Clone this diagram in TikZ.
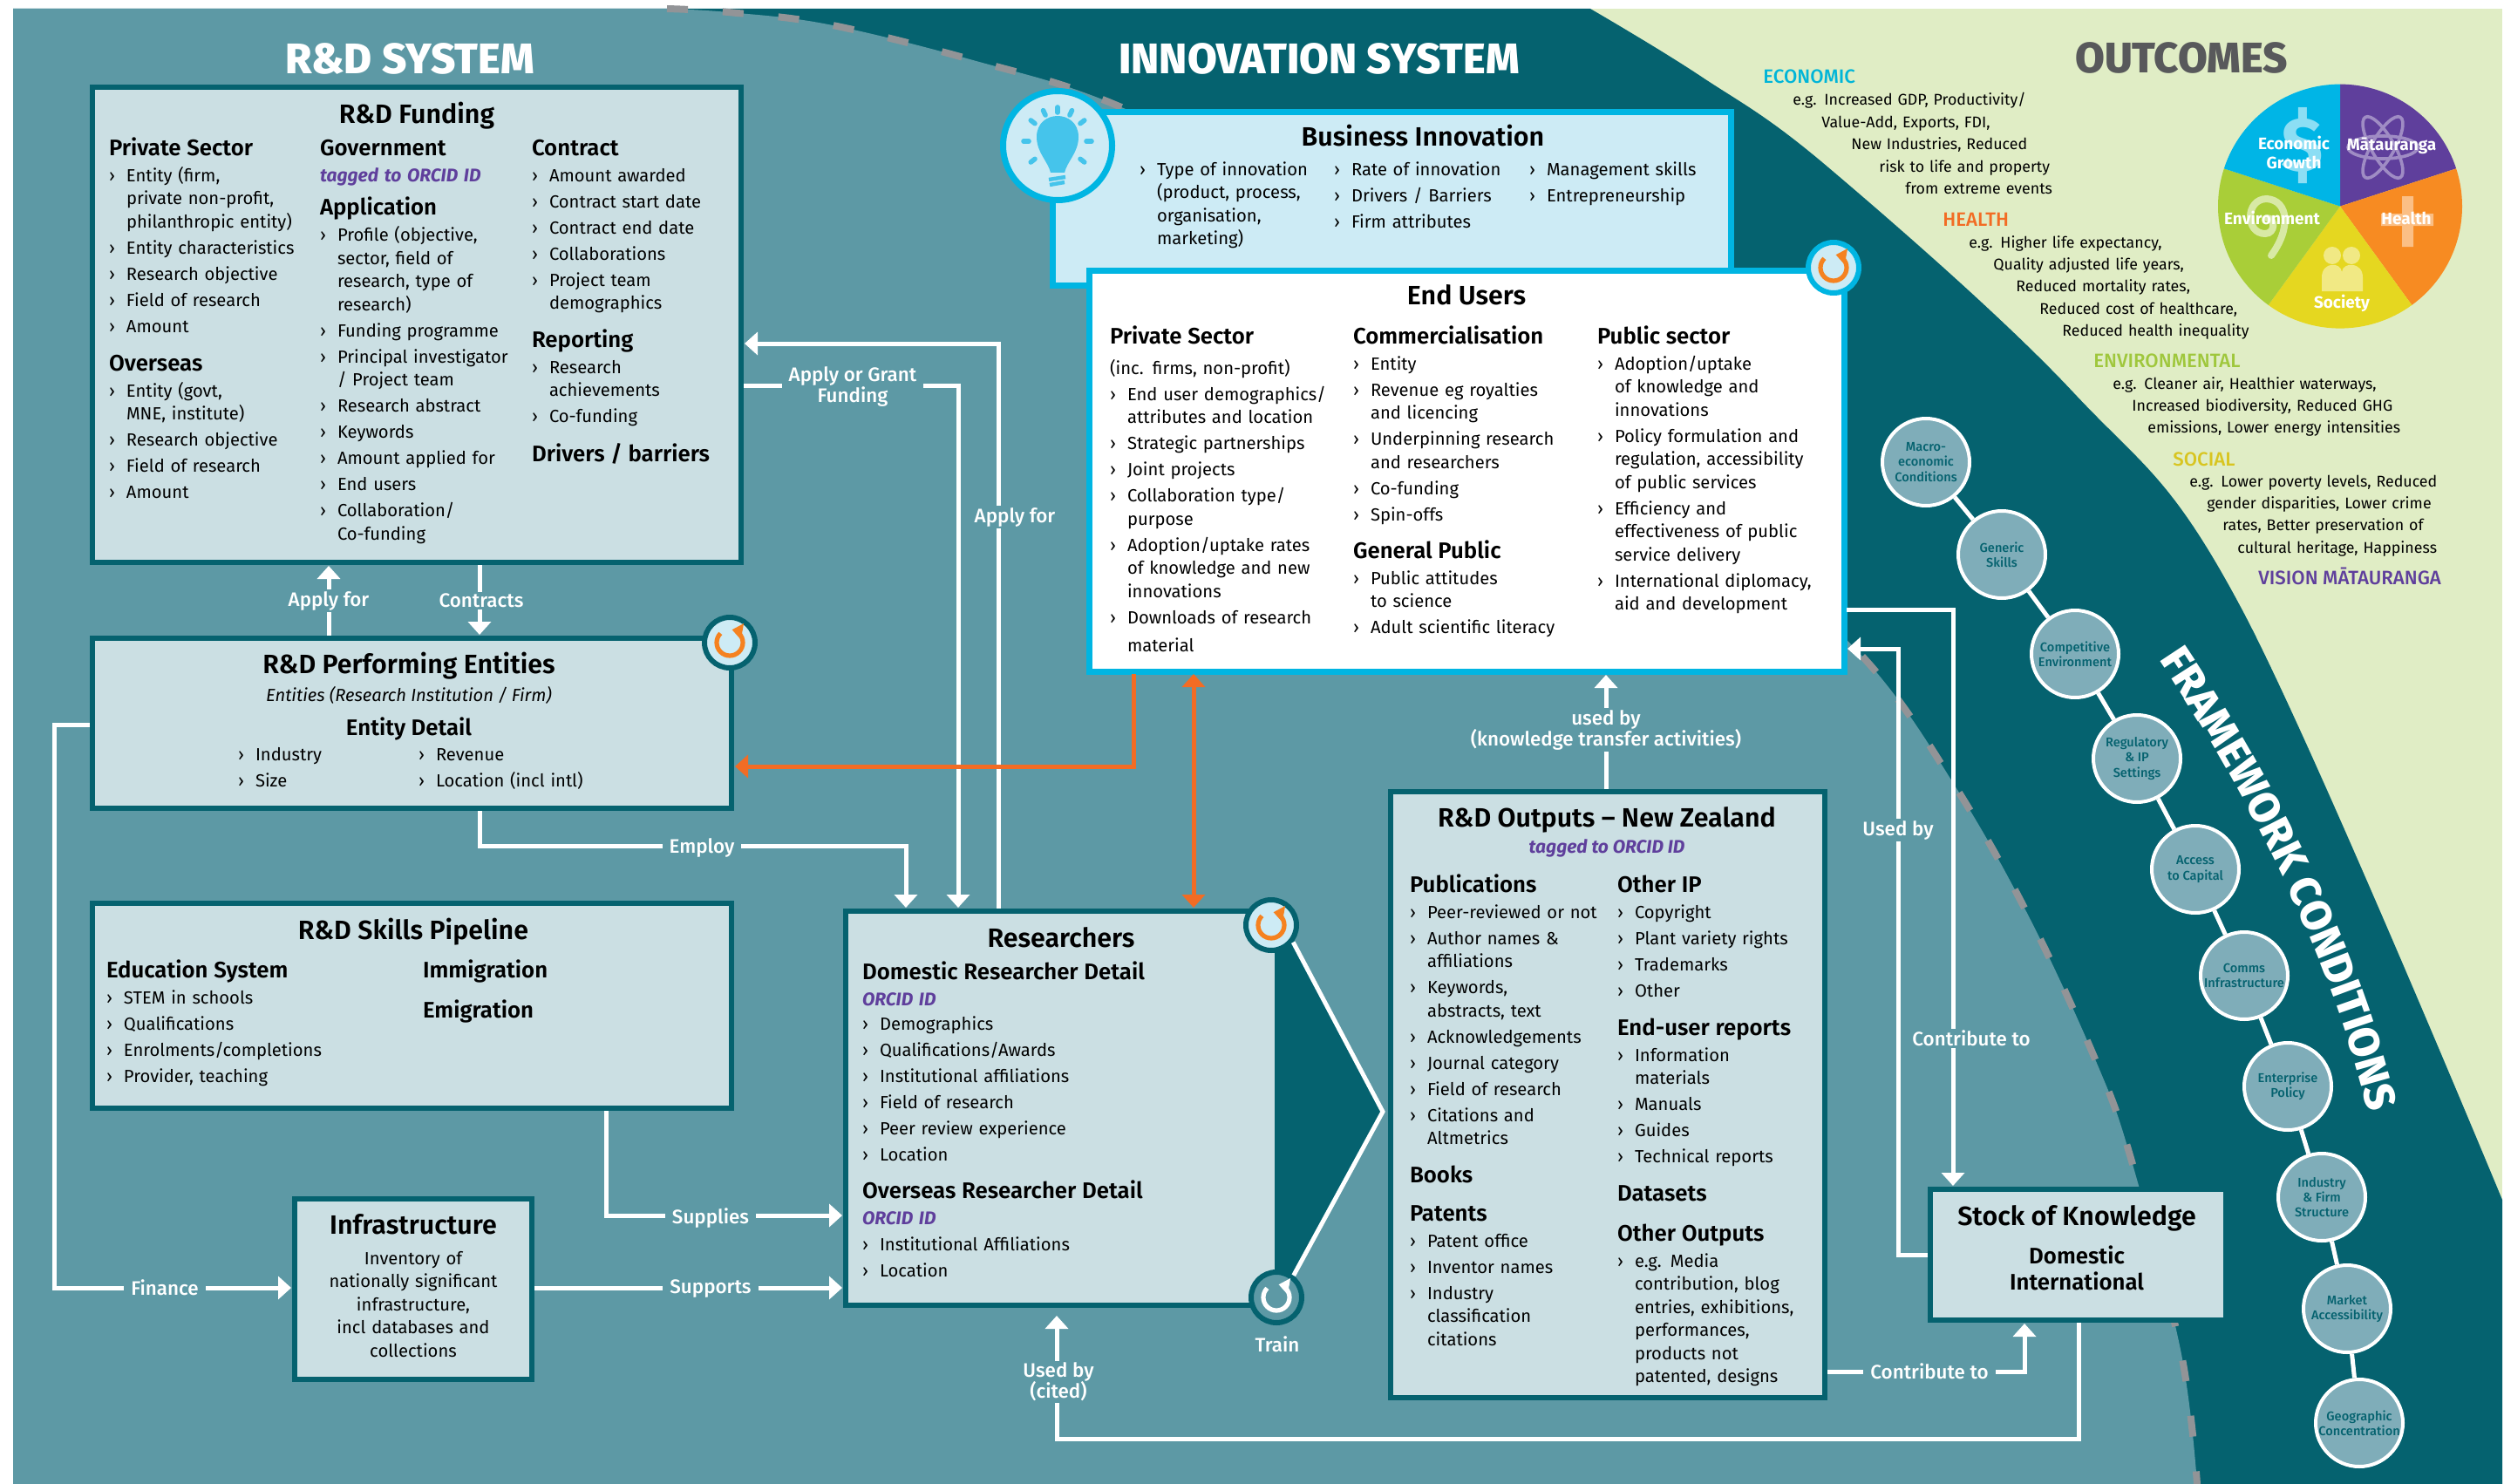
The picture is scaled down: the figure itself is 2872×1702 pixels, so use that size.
\documentclass[tikz,border=0pt]{standalone}
\usepackage{fontspec}
\setmainfont{Fira Sans}
\newfontfamily\medf{Fira Sans Medium}
\newfontfamily\semif{Fira Sans SemiBold}
\newfontfamily\xbf{Fira Sans ExtraBold}
\usetikzlibrary{arrows.meta,calc,decorations.text}
\definecolor{tealmid}{HTML}{5D99A5}
\definecolor{tealdark}{HTML}{05626F}
\definecolor{boxfill}{HTML}{CBDFE3}
\definecolor{leaf}{HTML}{E0EDC5}
\definecolor{cyanline}{HTML}{00B5E2}
\definecolor{paleblue}{HTML}{CDEBF5}
\definecolor{orangeline}{HTML}{F26C24}
\definecolor{iconorange}{HTML}{F58220}
\definecolor{vision}{HTML}{5F3F9C}
\definecolor{dashgrey}{HTML}{929497}
\definecolor{circfill}{HTML}{7FADB9}
\definecolor{slicecyan}{HTML}{00B5E6}
\definecolor{sliceorange}{HTML}{F78B22}
\definecolor{sliceyellow}{HTML}{E5D720}
\definecolor{slicegreen}{HTML}{A9CE38}
\definecolor{bulbblue}{HTML}{45C4EB}
\definecolor{econ}{HTML}{00B5D8}
\definecolor{envi}{HTML}{9FC73C}
\definecolor{soci}{HTML}{D8C520}
\definecolor{titlegrey}{HTML}{58595B}

\newcommand\bodyf{\fontsize{10.1}{13.25}\selectfont}
\newcommand\hdf{\fontsize{12.9}{13.25}\semif}
\newcommand\ttlf{\fontsize{15.2}{17}\semif}
\newcommand\lblf{\fontsize{11.2}{12}\medf}
\newcommand\hd[1]{{\hdf #1}\par}
\newcommand\itm[1]{\begingroup\def\\{\hfil\break}\hangindent=10pt\hangafter=1\makebox[10pt][l]{›}#1\par\endgroup}
\newcommand\tagline[1]{{\fontsize{10.5}{13.25}\selectfont\itshape\bfseries\color{vision}#1}\par}
\newcommand\ol[2]{\hspace*{\dimexpr#1pt/2\relax}#2\par}
\newcommand\colnode[5]{\node[col,text width={#4*0.5pt}] (#1) at (#2,#3) {#5};}
\newcommand\bx[6]{\node[#2,minimum width={(#5-#3)*0.5pt},minimum height={(#6-#4)*0.5pt}] (#1) at ({(#3+#5)/2},{(#4+#6)/2}) {};}
\newcommand\loopicon[5]{%
  \node[loopc,draw=#4,fill=#5] (#1) at (#2,#3) {};
}
\newcommand\looparrow[3]{%
  \draw[line width=2.6pt,#3,-{Triangle[width=9pt,length=6pt]}] ($(#1,#2)+(-135:15)$) arc[start angle=-135,end angle=-440,radius=15];
}
\tikzset{
  x=0.5pt,y=-0.5pt,
  >={Triangle[width=13pt,length=7.5pt]},
  box/.style={rectangle,draw=tealdark,fill=boxfill,line width=3pt,inner sep=0pt,outer sep=0pt},
  bizbox/.style={box,draw=cyanline,fill=paleblue,line width=3.5pt},
  userbox/.style={box,draw=cyanline,fill=white,line width=3.5pt},
  col/.style={anchor=base west,inner sep=0pt,outer sep=0pt,align=left,font=\bodyf,text=black,
    execute at begin node={\setlength{\parskip}{1.75pt}}},
  ttl/.style={inner sep=0pt,anchor=base,font=\ttlf,text=black},
  wire/.style={draw=white,line width=2.5pt,shorten <=1.5pt,shorten >=2pt},
  orangewire/.style={draw=orangeline,line width=2.5pt,shorten <=1.5pt,shorten >=2pt},
  lbl/.style={fill=tealmid,text=white,font=\lblf,align=center,inner xsep=4pt,inner ysep=1pt},
  loopc/.style={circle,line width=3pt,minimum size=29pt,inner sep=0pt},
  fwc/.style={circle,draw=white,fill=circfill,line width=2pt,minimum size=50pt,inner sep=0pt,
    text=tealdark,align=center,font=\fontsize{7.3}{8.6}\medf},
  fwlink/.style={draw=white,line width=2.5pt},
  outc/.style={anchor=base west,inner sep=0pt,align=left,font=\fontsize{8.9}{12.7}\selectfont,text=black,
    execute at begin node={\setlength{\parskip}{0pt}}},
  outh/.style={anchor=base west,inner sep=0pt,font=\fontsize{11.1}{13}\medf},
  pielbl/.style={text=white,font=\fontsize{9.5}{11}\selectfont\bfseries,align=center,inner sep=0pt},
  bigt/.style={inner sep=0pt,font=\fontsize{24.5}{27}\xbf},
}
\begin{document}
\begin{tikzpicture}
\useasboundingbox (0,0) rectangle (2872,1702);
\fill[white] (0,0) rectangle (2872,1702);
% regions
\fill[leaf] (15,10) rectangle (2870,1702);
\fill[tealdark] (15,10) -- plot[smooth,tension=0.6] coordinates {(1824,10) (1950,87) (2097,192) (2378,450) (2572,700) (2870,1376)} -- (2870,1702) -- (15,1702) -- cycle;
\fill[tealmid] (15,10) -- plot[smooth,tension=0.6] coordinates {(765,10) (835,14) (950,28) (1116,69) (1279,120) (1500,230) (1800,450) (2000,625) (2147,765) (2247,909) (2330,1057) (2404,1217) (2443,1325) (2501,1548) (2520,1702)} -- (15,1702) -- cycle;
\draw[dashgrey,line width=4pt,dash pattern=on 12pt off 20pt] plot[smooth,tension=0.6] coordinates {(765,10) (835,14) (950,28) (1116,69) (1279,120) (1500,230) (1800,450) (2000,625) (2147,765) (2247,909) (2330,1057) (2404,1217) (2443,1325) (2501,1548) (2520,1702)};

% titles
\node[bigt,text=white] (tRD) at (470,67) {R\&D SYSTEM};
\node[bigt,text=white] (tINN) at (1513,67) {INNOVATION SYSTEM};
\node[bigt,text=titlegrey] (tOUT) at (2502,66) {OUTCOMES};

% triangle behind researchers
\coordinate (tipR) at (1586,1275);
\fill[tealdark] (1460,1040) -- (tipR) -- (1460,1500) -- cycle;

% boxes
\bx{funding}{box}{106}{100}{850}{645}
\bx{perf}{box}{106}{732}{839}{927}
\bx{skills}{box}{106}{1036}{839}{1271}
\bx{infra}{box}{338}{1375}{610}{1582}
\bx{res}{box}{970}{1045}{1465}{1497}
\bx{outputs}{box}{1595}{908}{2093}{1603}
\bx{stock}{box}{2214}{1364}{2553}{1514}
\bx{biz}{bizbox}{1207}{129}{1985}{327}
\bx{users}{userbox}{1249}{310}{2115}{770}

% R&D Funding
\node[ttl] (fundT) at (478,141) {R\&D Funding};
\colnode{fPriv}{125}{178}{235}{\hd{Private Sector}
\itm{Entity (firm,\\private non-profit,\\philanthropic entity)}\itm{Entity characteristics}\itm{Research objective}\itm{Field of research}\itm{Amount}}
\colnode{fOver}{125}{425}{235}{\hd{Overseas}
\itm{Entity (govt,\\MNE, institute)}\itm{Research objective}\itm{Field of research}\itm{Amount}}
\colnode{fGov}{367}{178}{235}{\hd{Government}\tagline{tagged to ORCID ID}}
\colnode{fApp}{367}{247}{240}{\hd{Application}
\itm{Profile (objective,\\sector, field of\\research, type of\\research)}\itm{Funding programme}\itm{Principal investigator\\/ Project team}\itm{Research abstract}\itm{Keywords}\itm{Amount applied for}\itm{End users}\itm{Collaboration/\\Co-funding}}
\colnode{fCon}{610}{178}{235}{\hd{Contract}
\itm{Amount awarded}\itm{Contract start date}\itm{Contract end date}\itm{Collaborations}\itm{Project team\\demographics}}
\colnode{fRep}{610}{398}{235}{\hd{Reporting}
\itm{Research\\achievements}\itm{Co-funding}}
\colnode{fDrv}{610}{529}{235}{\hd{Drivers / barriers}}

% Business innovation
\node[ttl] (bizT) at (1632,168) {Business Innovation};
\colnode{b1}{1307}{201}{220}{\itm{Type of innovation\\(product, process,\\organisation,\\marketing)}}
\colnode{b2}{1530}{201}{220}{\itm{Rate of innovation}\itm{Drivers / Barriers}\itm{Firm attributes}}
\colnode{b3}{1754}{201}{225}{\itm{Management skills}\itm{Entrepreneurship}}

% End users
\node[ttl] (userT) at (1682,349) {End Users};
\colnode{u1}{1273}{394}{275}{\hd{Private Sector}\vspace{2.5pt}
(inc. firms, non-profit)\par
\itm{End user demographics/\\attributes and location}\itm{Strategic partnerships}\itm{Joint projects}\itm{Collaboration type/\\purpose}\itm{Adoption/uptake rates\\of knowledge and new\\innovations}\itm{Downloads of research\vadjust{\vskip 3pt}\\material}}
\colnode{u2}{1552}{394}{275}{\hd{Commercialisation}
\itm{Entity}\itm{Revenue eg royalties\\and licencing}\itm{Underpinning research\\and researchers}\itm{Co-funding}\itm{Spin-offs}}
\colnode{u2b}{1552}{640}{275}{\hd{General Public}
\itm{Public attitudes\\to science}\itm{Adult scientific literacy}}
\colnode{u3}{1832}{394}{278}{\hd{Public sector}
\itm{Adoption/uptake\\of knowledge and\\innovations}\itm{Policy formulation and\\regulation, accessibility\\of public services}\itm{Efficiency and\\effectiveness of public\\service delivery}\itm{International diplomacy,\\aid and development}}

% Performing entities
\node[ttl] (perfT) at (469,772) {R\&D Performing Entities};
\node[anchor=base,inner sep=0pt,font=\bodyf\itshape] (perfS) at (469,804) {Entities (Research Institution / Firm)};
\node[anchor=base,inner sep=0pt,font=\hdf] (perfD) at (469,843) {Entity Detail};
\colnode{p1}{273}{872}{190}{\itm{Industry}\itm{Size}}
\colnode{p2}{480}{872}{240}{\itm{Revenue}\itm{Location (incl intl)}}

% Skills
\node[ttl] (skT) at (474,1077) {R\&D Skills Pipeline};
\colnode{s1}{122}{1121}{330}{\hd{Education System}
\itm{STEM in schools}\itm{Qualifications}\itm{Enrolments/completions}\itm{Provider, teaching}}
\colnode{s2}{485}{1121}{200}{\hd{Immigration}}
\colnode{s3}{485}{1167}{200}{\hd{Emigration}}

% Infrastructure
\node[ttl] (inT) at (474,1415) {Infrastructure};
\node[anchor=base,inner sep=0pt,font=\bodyf,align=center,text width={264*0.5pt}] (inB) at (474,1450) {Inventory of\\nationally significant\\infrastructure,\\incl databases and\\collections};

% Researchers
\node[ttl] (reT) at (1217,1086) {Researchers};
\colnode{r1}{989}{1123}{440}{\hd{Domestic Researcher Detail}\tagline{ORCID ID}\vspace{-0.8pt}
\itm{Demographics}\itm{Qualifications/Awards}\itm{Institutional affiliations}\itm{Field of research}\itm{Peer review experience}\itm{Location}}
\colnode{r2}{989}{1374}{440}{\hd{Overseas Researcher Detail}\tagline{ORCID ID}
\itm{Institutional Affiliations}\itm{Location}}

% Outputs
\node[ttl] (ouT) at (1843,948) {R\&D Outputs – New Zealand};
\node[anchor=base,inner sep=0pt,font=\fontsize{10.5}{13}\selectfont\itshape\bfseries,text=vision] (ouS) at (1843,978) {tagged to ORCID ID};
\colnode{o1}{1617}{1023}{235}{\hd{Publications}
\itm{Peer-reviewed or not}\itm{Author names \&\\affiliations}\itm{Keywords,\\abstracts, text}\itm{Acknowledgements}\itm{Journal category}\itm{Field of research}\itm{Citations and\\Altmetrics}}
\colnode{o2}{1617}{1356}{235}{\hd{Books}}
\colnode{o3}{1617}{1400}{235}{\hd{Patents}
\itm{Patent office}\itm{Inventor names}\itm{Industry\\classification\\citations}}
\colnode{o4}{1855}{1023}{230}{\hd{Other IP}
\itm{Copyright}\itm{Plant variety rights}\itm{Trademarks}\itm{Other}}
\colnode{o5}{1855}{1187}{230}{\hd{End-user reports}
\itm{Information\\materials}\itm{Manuals}\itm{Guides}\itm{Technical reports}}
\colnode{o6}{1855}{1377}{230}{\hd{Datasets}}
\colnode{o7}{1855}{1423}{230}{\hd{Other Outputs}
\itm{e.g. Media\\contribution, blog\\entries, exhibitions,\\performances,\\products not\\patented, designs}}

% Stock
\node[ttl] (stT) at (2382,1405) {Stock of Knowledge};
\node[anchor=base,inner sep=0pt,font=\fontsize{12.9}{15}\semif,align=center,text=black,text width={300*0.5pt}] (stB) at (2382,1449) {Domestic\\International};

% waypoints
\coordinate (hA) at (1145,394);
\coordinate (gA) at (1099,442);
\coordinate (aA) at (377,690);
\coordinate (aB) at (550,690);
\coordinate (eA) at (550,970);
\coordinate (eB) at (1039,970);
\coordinate (fA) at (62,831);
\coordinate (fB) at (62,1477);
\coordinate (sA) at (695,1394);
\coordinate (uA) at (1842,840);
\coordinate (cA) at (2384,1650);
\coordinate (cB) at (1212,1650);
\coordinate (cC) at (2322,1573);
\coordinate (cD) at (2240,699);
\coordinate (cE1) at (2177,1439);
\coordinate (cE2) at (2177,744);
\coordinate (oA) at (1300,879);
\coordinate (oB) at (1369,900);

% connectors
\draw[wire,->] (res.north -| hA) -- (hA) -- (funding.east |- hA);
\draw[wire,->] (funding.east |- gA) -- (gA) -- (res.north -| gA);
\draw[wire,->] (perf.north -| aA) -- (funding.south -| aA);
\draw[wire,->] (funding.south -| aB) -- (perf.north -| aB);
\draw[wire,->] (perf.south -| eA) -- (eA) -- (eB) -- (res.north -| eB);
\draw[wire,->] (perf.west |- fA) -- (fA) -- (fB) -- (infra.west |- fB);
\draw[wire,->] (infra.east |- fB) -- (res.west |- fB);
\draw[wire,->] (skills.south -| sA) -- (sA) -- (res.west |- sA);
\draw[wire,->] (outputs.north -| uA) -- (users.south -| uA);
\draw[wire,->,shorten >=6pt] (stock.south -| cA) -- (cA) -- (cB) -- (res.south -| cB);
\draw[wire,->] (outputs.east |- cC) -- (cC) -- (stock.south -| cC);
\draw[wire,->] (users.east |- cD) -- (cD) -- (stock.north -| cD);
\draw[wire,->] (stock.west) -- (cE1) -- (cE2) -- (users.east |- cE2);
\draw[orangewire,->] (users.south -| oA) -- (oA) -- (perf.east |- oA);
\draw[orangewire,<->] (users.south -| oB) -- (res.north -| oB);

% loop circles
\node[circle,draw=cyanline,fill=paleblue,line width=3.5pt,minimum size=62.5pt,inner sep=0pt] (bulb) at (1213,167) {};
\fill[bulbblue] (1189,157) .. controls (1189,125) and (1237,125) .. (1237,157) .. controls (1237,175) and (1224,185) .. (1221,198) -- (1205,198) .. controls (1202,185) and (1189,175) .. (1189,157) -- cycle;
\draw[bulbblue,line width=2.2pt] (1203,206) -- (1222,203) (1204,212) -- (1221,209);
\foreach \a in {-90,-115,-65,-142,-38,-180,0,-218,38}{
  \draw[bulbblue,line width=2.8pt,line cap=round] ($(1213,162)+(\a:33)$) -- ($(1213,162)+(\a:39)$);
}
\loopicon{loopU}{2103}{307}{cyanline}{paleblue}
\looparrow{2103}{307}{iconorange}
\loopicon{loopP}{837}{737}{tealdark}{paleblue}
\looparrow{837}{737}{iconorange}
\loopicon{loopC}{1458}{1061}{tealdark}{paleblue}
\looparrow{1458}{1061}{iconorange}
\loopicon{loopD}{1464}{1488}{tealdark}{tealmid}
\looparrow{1464}{1488}{white}
\draw[fwlink] (loopC.-38) -- (tipR) -- (loopD.52);

% connector labels
\node[lbl] (lApply) at (1164,593) {Apply for};
\node[lbl] (lGrant) at (978,443) {Apply or Grant\\Funding};
\node[lbl] (lA) at (377,689) {Apply for};
\node[lbl] (lC) at (552,689) {Contracts};
\node[lbl] (lE) at (805,972) {Employ};
\node[lbl] (lF) at (189,1477) {Finance};
\node[lbl] (lSu) at (815,1478) {Supports};
\node[lbl] (lSp) at (815,1397) {Supplies};
\node[lbl] (lU) at (1842,837) {used by\\(knowledge transfer activities)};
\node[lbl] (lCited) at (1214,1585) {Used by\\(cited)};
\node[lbl] (lCo1) at (2213,1573) {Contribute to};
\node[lbl] (lCo2) at (2261,1191) {Contribute to};
\node[lbl] (lUb) at (2177,952) {Used by};
\node[text=white,font=\lblf,inner sep=0pt] (lTrain) at (1465,1542) {Train};

% Framework circles
\node[fwc] (fc1) at (2209,530) {Macro-\\economic\\Conditions};
\node[fwc] (fc2) at (2296,636) {Generic\\Skills};
\node[fwc] (fc3) at (2380,750) {Competitive\\Environment};
\node[fwc] (fc4) at (2451,870) {Regulatory\\\& IP\\Settings};
\node[fwc] (fc5) at (2518,997) {Access\\to Capital};
\node[fwc] (fc6) at (2574,1119) {Comms\\Infrastructure};
\node[fwc] (fc7) at (2624,1246) {Enterprise\\Policy};
\node[fwc] (fc8) at (2663,1373) {Industry\\\& Firm\\Structure};
\node[fwc] (fc9) at (2692,1501) {Market\\Accessibility};
\node[fwc] (fc10) at (2706,1632) {Geographic\\Concentration};
\foreach \i/\j in {1/2,2/3,3/4,4/5,5/6,6/7,7/8,8/9,9/10}{\draw[fwlink] (fc\i) -- (fc\j);}
\path[decorate,decoration={text along path,text align=center,
  text={|\fontsize{24.6}{27}\xbf\color{white}|FRAMEWORK CONDITIONS}}]
  (2462,736) .. controls (2565,885) and (2680,1100) .. (2722,1300);

% Outcomes text
\node[outh,text=econ] (hEcon) at (2022,96) {ECONOMIC};
\node[outc,text width={330*0.5pt}] (tEcon) at (2056,121) {\ol{0}{e.g. Increased GDP, Productivity/}\ol{33}{Value-Add, Exports, FDI,}\ol{67}{New Industries, Reduced}\ol{99}{risk to life and property}\ol{129}{from extreme events}};
\node[outh,text=orangeline] (hHeal) at (2228,259) {HEALTH};
\node[outc,text width={335*0.5pt}] (tHeal) at (2258,284) {\ol{0}{e.g. Higher life expectancy,}\ol{28}{Quality adjusted life years,}\ol{54}{Reduced mortality rates,}\ol{81}{Reduced cost of healthcare,}\ol{107}{Reduced health inequality}};
\node[outh,text=envi] (hEnvi) at (2401,421) {ENVIRONMENTAL};
\node[outc,text width={350*0.5pt}] (tEnvi) at (2423,446) {\ol{0}{e.g. Cleaner air, Healthier waterways,}\ol{22}{Increased biodiversity, Reduced GHG}\ol{40}{emissions, Lower energy intensities}};
\node[outh,text=soci] (hSoci) at (2492,534) {SOCIAL};
\node[outc,text width={310*0.5pt}] (tSoci) at (2511,558) {\ol{0}{e.g. Lower poverty levels, Reduced}\ol{20}{gender disparities, Lower crime}\ol{38}{rates, Better preservation of}\ol{55}{cultural heritage, Happiness}};
\node[outh,text=vision] (hVisi) at (2590,670) {VISION MĀTAURANGA};

% Pie
\coordinate (pie) at (2684,236.6);
\fill[vision] (pie) -- ++(-90:140) arc[start angle=-90,end angle=-18,radius=140] -- cycle;
\fill[sliceorange] (pie) -- ++(-18:140) arc[start angle=-18,end angle=54,radius=140] -- cycle;
\fill[sliceyellow] (pie) -- ++(54:140) arc[start angle=54,end angle=126,radius=140] -- cycle;
\fill[slicegreen] (pie) -- ++(126:140) arc[start angle=126,end angle=198,radius=140] -- cycle;
\fill[slicecyan] (pie) -- ++(198:140) arc[start angle=198,end angle=270,radius=140] -- cycle;
% pie icons
\node[text=slicecyan!45!white,font=\fontsize{44}{44}\selectfont\bfseries,inner sep=0pt] (iDollar) at (2641,167) {\$};
\begin{scope}[shift={(2733,169)}]
\foreach \a in {0,60,120}{\draw[vision!60!white,line width=1.8pt,rotate=\a] (0,0) ellipse[x radius=40,y radius=13];}
\end{scope}
\fill[sliceorange!55!white] (2755,225) rectangle (2768,283) (2731,245) rectangle (2791,259);
\fill[sliceyellow!55!white] (2675,293) circle[radius=10] (2697,293) circle[radius=10];
\fill[sliceyellow!55!white] (2663,334) -- (2663,318) .. controls (2663,300) and (2685,300) .. (2686,312) .. controls (2687,300) and (2710,300) .. (2710,318) -- (2710,334) -- cycle;
\draw[slicegreen!45!white,line width=4pt,line cap=round] (2605,293) .. controls (2628,262) and (2625,230) .. (2600,228) .. controls (2575,228) and (2575,268) .. (2598,268) .. controls (2610,268) and (2610,250) .. (2600,250);
\node[pielbl] (pE) at (2631,175) {Economic\\Growth};
\node[pielbl] (pM) at (2743,167) {Mātauranga};
\node[pielbl] (pV) at (2606,250) {Environment};
\node[pielbl] (pH) at (2760,250) {Health};
\node[pielbl] (pS) at (2686,348) {Society};
\end{tikzpicture}
\end{document}
